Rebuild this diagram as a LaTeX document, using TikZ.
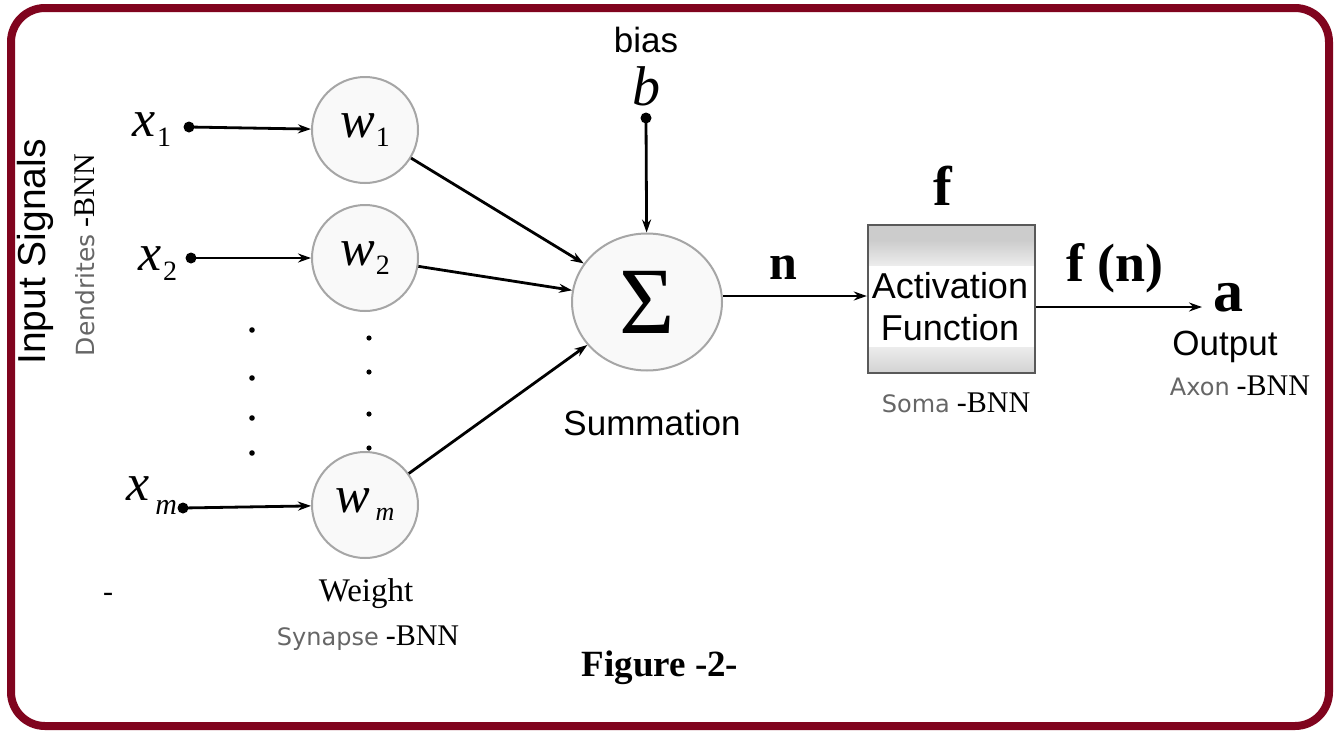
\documentclass[tikz,border=0pt]{standalone}
\usepackage{fontspec}
\setmainfont{Liberation Serif}
\setsansfont{Liberation Sans}
\newfontfamily\tahoma{DejaVu Sans}
\usetikzlibrary{arrows.meta,shapes.geometric}
\definecolor{frame}{RGB}{128,4,30}
\newcommand{\fsz}[1]{\fontsize{#1pt}{#1pt}\selectfont}
\newcommand{\bnn}[2]{{\tahoma\fsz{#1}\color{gray!80!black}#2}\hspace{7pt}{\fsz{30}-BNN}}
\tikzset{
  arr/.style={line width=2.8pt,-{Stealth[length=13pt,width=9pt]}},
  wnode/.style={circle,draw=gray!70,fill=gray!5,line width=2pt,minimum size=106pt,inner sep=0pt},
  sans/.style={font=\sffamily\fsz{35}},
}
\begin{document}
\begin{tikzpicture}[x=1pt,y=-1pt]
\useasboundingbox (0,0) rectangle (1334,731);
\fill[white] (0,0) rectangle (1334,731);
\draw[frame,line width=8pt,rounded corners=34pt] (11,8) rectangle (1329,726);

% input dots
\coordinate (d1) at (189,127);
\coordinate (d2) at (191,258);
\coordinate (dm) at (183,508);
\coordinate (db) at (646,118);
\foreach \c in {d1,d2,dm,db} \fill (\c) circle (5.5pt);

% weight nodes
\node[wnode] (w1) at (365,130) {\fsz{52}\itshape w\kern1pt\raisebox{-9pt}{\fsz{28}\upshape 1}};
\node[wnode] (w2) at (365,258) {\fsz{52}\itshape w\kern1pt\raisebox{-9pt}{\fsz{28}\upshape 2}};
\node[wnode] (wm) at (365,505) {\fsz{52}\itshape w\kern-1pt\raisebox{-8pt}{\fsz{26} m}};

% input labels
\node (x1) at (152,130) {\fsz{52}\itshape x\kern1pt\raisebox{-10pt}{\fsz{28}\upshape 1}};
\node (x2) at (158,264) {\fsz{52}\itshape x\kern1pt\raisebox{-10pt}{\fsz{28}\upshape 2}};
\node (xm) at (152,496) {\fsz{52}\itshape x\kern-2pt\raisebox{-14pt}{\fsz{30} m}};

% dots columns
\foreach \y in {330,378,418,453} \fill (252,\y) circle (2.8pt);
\foreach \y in {338,372,414,448} \fill (369,\y) circle (2.6pt);

% summation
\node[ellipse,draw=gray!70,fill=gray!5,line width=2pt,minimum width=150pt,minimum height=137pt,inner sep=0pt] (sum) at (647,302) {\raisebox{-4pt}{\fsz{95}Σ}};
\node[sans] (suml) at (652,423) {Summation};
\node[sans] (bias) at (646,40) {bias};
\node (b) at (646,86) {\fsz{56}\itshape b};

% activation box
\fill[gray!40] (868,225) rectangle (1035,240);
\shade[top color=gray!40,bottom color=gray!15] (868,240) rectangle (1035,265);
\shade[top color=gray!15,bottom color=gray!35] (868,347) rectangle (1035,373);
\node[draw=gray!70!black,line width=2.4pt,minimum width=167pt,minimum height=148pt,inner sep=0pt] (act) at (951.5,299) {};
\node[align=center,font=\sffamily\fsz{36}] (actl) at (950,307) {Activation\\[6pt]Function};
\node (f) at (943,186) {\fsz{56}\bfseries f};
\node (soma) at (956,403) {\bnn{24}{Soma}};

% n arrow
\draw[arr] ([yshift=6pt]sum.east) -- ([yshift=3pt]act.west);
\node (n) at (783,268) {\fsz{50}\bfseries n};

% output
\coordinate (out) at (1202,307);
\draw[arr] ([yshift=-8pt]act.east) -- (out);
\node (fn) at (1115,268) {\fsz{54}\bfseries f (n)};
\node (a) at (1228,298) {\fsz{60}\bfseries a};
\node[sans] (outl) at (1225,347) {Output};
\node (axon) at (1240,386) {\bnn{24}{Axon}};

% connectors
\draw[arr] (d1) -- (w1);
\draw[arr] (d2) -- (w2);
\draw[arr] (dm) -- (wm);
\draw[arr] (w1) -- (sum);
\draw[arr] (w2) -- (sum);
\draw[arr] (wm) -- (sum);
\draw[arr] (db) -- (sum);

% left labels
\node[rotate=90,font=\sffamily\fsz{39}] (inp) at (35,252) {Input Signals};
\node[rotate=90] (dend) at (85,255) {\bnn{25}{Dendrites}};

% bottom labels
\node (wt) at (366,594) {\fsz{33}Weight};
\node (syn) at (368,638) {\bnn{24}{Synapse}};
\node (dash) at (108,597) {\fsz{30}-};
\node (fig) at (660,668) {\fsz{37}\bfseries Figure -2-};
\end{tikzpicture}
\end{document}
